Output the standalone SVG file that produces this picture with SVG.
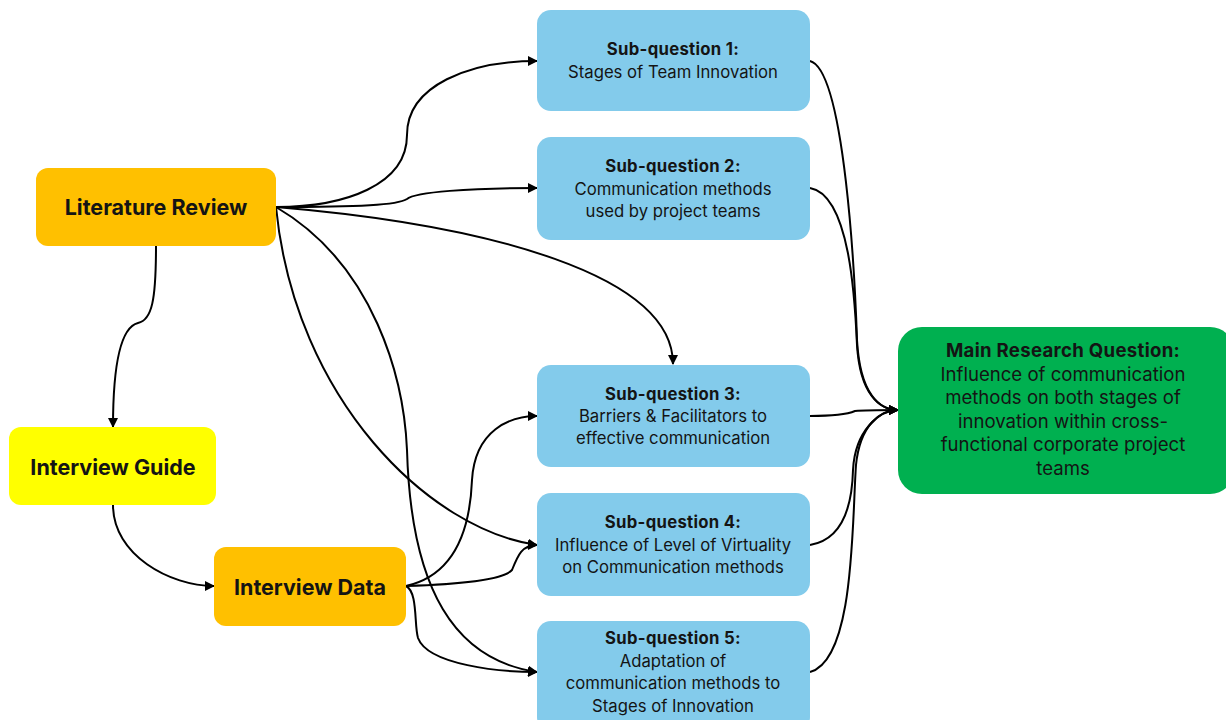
<svg xmlns="http://www.w3.org/2000/svg" width="1226" height="720" viewBox="0 0 1226 720">
<defs>
<marker id="arr" viewBox="0 0 10 10" refX="9" refY="5" markerWidth="10" markerHeight="10" markerUnits="userSpaceOnUse" orient="auto">
<path d="M0,0 L10,5 L0,10 z" fill="#000"/>
</marker>
<style>
.t{font-family:Inter,"Open Sans","Liberation Sans",sans-serif;fill:#141414;text-anchor:middle}
.big{font-size:21.5px;font-weight:700}
.sq{font-size:16.7px}
.b{font-weight:700;letter-spacing:0.3px}
.mn{font-size:18.6px}
.lr{fill:#FFC000}
.ig{fill:#FFFF00}
.blue{fill:#83CBEB}
.green{fill:#00B050}
.c{fill:none;stroke:#000;stroke-width:2;marker-end:url(#arr)}
</style>
</defs>
<rect width="1226" height="720" fill="#fff"/>
<g id="connectors">
<path class="c" d="M276,207 C345,207 407,185 407,135 C407,85 470,61 537,61"/>
<path class="c" d="M276,207 C360,207 398,205 407,199 C415,192 470,188 537,188"/>
<path class="c" d="M276,207 C490,225 673,275 673,364"/>
<path class="c" d="M276,207 C295,400 430,530 537,545"/>
<path class="c" d="M276,207 C375,265 404,380 407,450 C411,590 455,660 537,672"/>
<path class="c" d="M156,246 C156,300 152,320 138,323 C122,327 113,360 113,427"/>
<path class="c" d="M113,505 C113,555 170,586 214,586"/>
<path class="c" d="M406,586 C455,575 470,530 472,480 C475,430 510,416 537,416"/>
<path class="c" d="M406,586 C470,584 505,578 512,570 C518,555 522,545 537,545"/>
<path class="c" d="M406,586 C418,592 414,625 418,638 C428,665 500,672 537,672"/>
<path class="c" d="M810,61 C845,70 855,280 857,340 C860,395 880,410 898,410"/>
<path class="c" d="M810,188 C850,195 855,300 857,345 C860,395 880,410 898,410"/>
<path class="c" d="M810,416 C835,416 848,414 855,411 C865,410 880,410 898,410"/>
<path class="c" d="M810,545 C840,540 852,510 853,470 C855,430 880,410 898,410"/>
<path class="c" d="M810,672 C855,660 852,520 856,465 C860,425 880,410 898,410"/>
</g>
<g id="literature-review">
<rect class="lr" x="36" y="168" width="240" height="78" rx="12"/>
<text class="t big" x="156" y="215">Literature Review</text>
</g>
<g id="interview-guide">
<rect class="ig" x="9" y="427" width="207" height="78" rx="12"/>
<text class="t big" x="113" y="474.5">Interview Guide</text>
</g>
<g id="interview-data">
<rect class="lr" x="214" y="547" width="192" height="79" rx="12"/>
<text class="t big" x="310" y="594.5">Interview Data</text>
</g>
<g id="sq1">
<rect class="blue" x="537" y="10" width="273" height="101" rx="14"/>
<text class="t sq b" x="673" y="55">Sub-question 1:</text>
<text class="t sq" x="673" y="78">Stages of Team Innovation</text>
</g>
<g id="sq2">
<rect class="blue" x="537" y="137" width="273" height="103" rx="14"/>
<text class="t sq b" x="673" y="172">Sub-question 2:</text>
<text class="t sq" x="673" y="195">Communication methods</text>
<text class="t sq" x="673" y="217">used by project teams</text>
</g>
<g id="sq3">
<rect class="blue" x="537" y="365" width="273" height="102" rx="14"/>
<text class="t sq b" x="673" y="400">Sub-question 3:</text>
<text class="t sq" x="673" y="422">Barriers &amp; Facilitators to</text>
<text class="t sq" x="673" y="444">effective communication</text>
</g>
<g id="sq4">
<rect class="blue" x="537" y="493" width="273" height="103" rx="14"/>
<text class="t sq b" x="673" y="528">Sub-question 4:</text>
<text class="t sq" x="673" y="551">Influence of Level of Virtuality</text>
<text class="t sq" x="673" y="573">on Communication methods</text>
</g>
<g id="sq5">
<rect class="blue" x="537" y="621" width="273" height="110" rx="14"/>
<text class="t sq b" x="673" y="644">Sub-question 5:</text>
<text class="t sq" x="673" y="667">Adaptation of</text>
<text class="t sq" x="673" y="689">communication methods to</text>
<text class="t sq" x="673" y="712">Stages of Innovation</text>
</g>
<g id="main-question">
<rect class="green" x="898" y="327" width="336" height="167" rx="24"/>
<text class="t mn b" x="1063" y="357">Main Research Question:</text>
<text class="t mn" x="1063" y="380.5">Influence of communication</text>
<text class="t mn" x="1063" y="404">methods on both stages of</text>
<text class="t mn" x="1063" y="427.5">innovation within cross-</text>
<text class="t mn" x="1063" y="451">functional corporate  project</text>
<text class="t mn" x="1063" y="474.5">teams</text>
</g>
</svg>
